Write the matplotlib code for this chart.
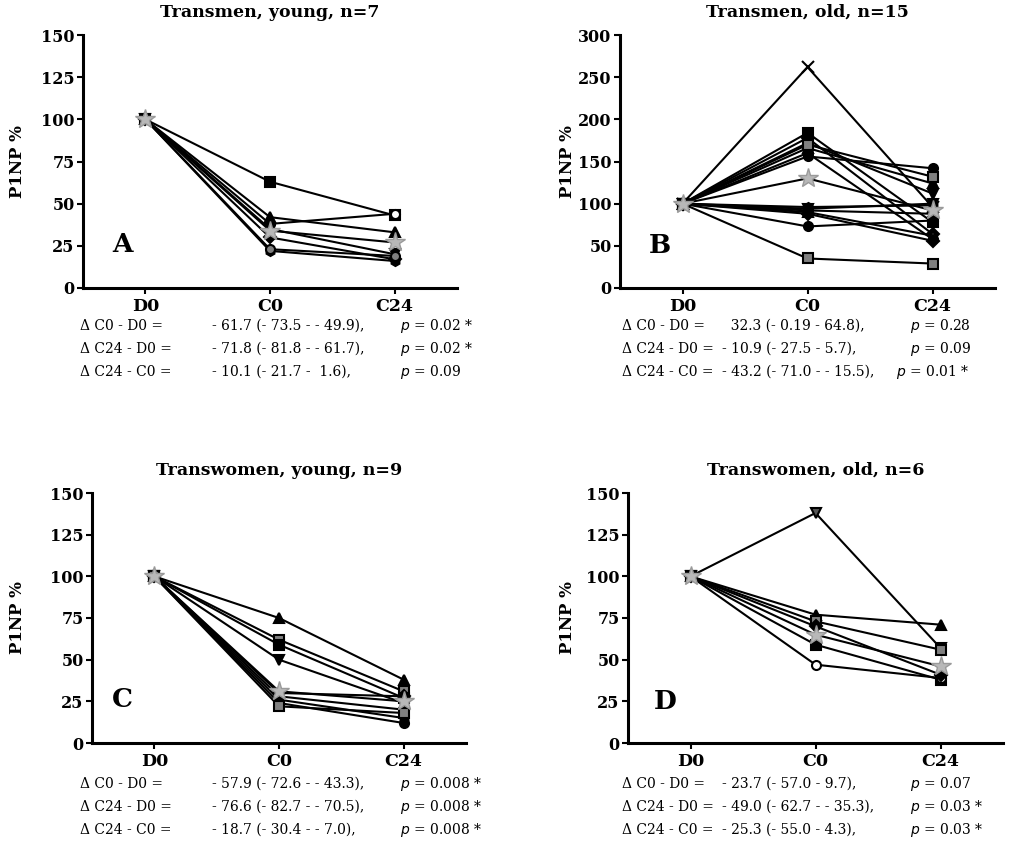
import matplotlib.pyplot as plt

plt.rcParams['font.family'] = 'DejaVu Serif'

times = ['D0', 'C0', 'C24']

# Transmen, young
tm_young = [
    [100, 63, 43],
    [100, 38, 44],
    [100, 42, 33],
    [100, 35, 20],
    [100, 30, 17],
    [100, 22, 16],
    [100, 23, 19],
]
tm_young_median = [100, 34, 27]

# Transmen, old
tm_old = [
    [100, 262, 96],
    [100, 184, 78],
    [100, 178, 64],
    [100, 172, 112],
    [100, 166, 124],
    [100, 160, 58],
    [100, 156, 142],
    [100, 170, 132],
    [100, 96, 98],
    [100, 92, 88],
    [100, 90, 62],
    [100, 88, 56],
    [100, 73, 80],
    [100, 35, 29],
    [100, 94, 100],
]
tm_old_median = [100, 130, 92]

# Transwomen, young
tw_young = [
    [100, 75, 38],
    [100, 62, 31],
    [100, 59, 27],
    [100, 50, 24],
    [100, 30, 28],
    [100, 28, 20],
    [100, 26, 15],
    [100, 24, 12],
    [100, 22, 18],
]
tw_young_median = [100, 31, 25]

# Transwomen, old
tw_old = [
    [100, 138, 57],
    [100, 77, 71],
    [100, 73, 56],
    [100, 59, 38],
    [100, 47, 39],
    [100, 70, 41],
]
tw_old_median = [100, 65, 46]

titles = ['Transmen, young, n=7', 'Transmen, old, n=15',
          'Transwomen, young, n=9', 'Transwomen, old, n=6']
letters = ['A', 'B', 'C', 'D']

stats_a = [('- 61.7 (- 73.5 - - 49.9),', '0.02 *'),
           ('- 71.8 (- 81.8 - - 61.7),', '0.02 *'),
           ('- 10.1 (- 21.7 -  1.6),', '0.09')]
stats_b = [('  32.3 (- 0.19 - 64.8),', '0.28'),
           ('- 10.9 (- 27.5 - 5.7),', '0.09'),
           ('- 43.2 (- 71.0 - - 15.5),', '0.01 *')]
stats_c = [('- 57.9 (- 72.6 - - 43.3),', '0.008 *'),
           ('- 76.6 (- 82.7 - - 70.5),', '0.008 *'),
           ('- 18.7 (- 30.4 - - 7.0),', '0.008 *')]
stats_d = [('- 23.7 (- 57.0 - 9.7),', '0.07'),
           ('- 49.0 (- 62.7 - - 35.3),', '0.03 *'),
           ('- 25.3 (- 55.0 - 4.3),', '0.03 *')]
row_names = ['\u0394 C0 - D0 =', '\u0394 C24 - D0 =', '\u0394 C24 - C0 =']

# marker styles per panel
mk = [
    (['s', 'o', '^', 'v', 'D', 'h', 'o'],
     ['black', 'white', 'black', 'black', 'black', 'black', 'gray']),
    (['x', 's', 'D', 'v', '^', 'o', 'o', 's', 'h', 'o', '^', 'D', 'o', 's', 'v'],
     ['black', 'black', 'black', 'black', 'black', 'black', 'black', 'gray',
      'black', 'black', 'white', 'black', 'black', 'gray', 'black']),
    (['^', 's', 's', 'v', 'D', 'o', 'h', 'o', 's'],
     ['black', 'gray', 'black', 'black', 'black', 'black', 'black', 'black', 'gray']),
    (['v', '^', 's', 's', 'o', 'D'],
     ['#555555', 'black', 'gray', 'black', 'white', 'black']),
]

W, H = 1025, 856
fig = plt.figure(figsize=(W / 100, H / 100), dpi=100)

panels = [
    (tm_young, tm_young_median, 150, [83, 35, 457, 288], stats_a, 326),
    (tm_old, tm_old_median, 300, [620, 35, 995, 288], stats_b, 326),
    (tw_young, tw_young_median, 150, [92, 493, 466, 743], stats_c, 784),
    (tw_old, tw_old_median, 150, [628, 493, 1003, 743], stats_d, 784),
]
letter_pos = [(-0.18, 26), (-0.18, 50), (-0.26, 26), (-0.2, 25)]

for k, (data, median, ymax, box, stats, row_y) in enumerate(panels):
    x0, y0, x1, y1 = box
    ax = fig.add_axes([x0 / W, 1 - y1 / H, (x1 - x0) / W, (y1 - y0) / H])
    markers, fills = mk[k]
    for i, series in enumerate(data):
        ax.plot(times, series, color='black', lw=1.5,
                marker=markers[i], ms=6.5 if markers[i] != 'x' else 8,
                mfc=fills[i], mec='black', mew=1.5)
    ax.plot(times, median, color='black', lw=1.5, marker='*', ms=15,
            mfc='#b8b8b8', mec='#9a9a9a', zorder=5)
    ax.set_xlim(-0.5, 2.5)
    ax.set_ylim(0, ymax)
    step = 25 if ymax == 150 else 50
    ax.set_yticks(range(0, ymax + 1, step))
    for s in ['top', 'right']:
        ax.spines[s].set_visible(False)
    for s in ['left', 'bottom']:
        ax.spines[s].set_linewidth(2.2)
    ax.tick_params(axis='y', length=4, width=1.5, labelsize=11.5, pad=2)
    ax.tick_params(axis='x', length=4, width=1.5, labelsize=12.5, pad=3)
    for lab in ax.get_xticklabels() + ax.get_yticklabels():
        lab.set_fontweight('bold')
    ax.set_title(titles[k], fontsize=12.5, fontweight='bold', pad=13)
    lx, ly = letter_pos[k]
    ax.text(lx, ly, letters[k], fontsize=19, fontweight='bold',
            ha='center', va='center')
    ax.patch.set_alpha(0)

    # y label in figure pixels
    yl = 18 if k in (0, 2) else 568
    fig.text(yl / W, 1 - (y0 + y1) / 2 / H, 'P1NP %', rotation=90, fontsize=12,
             fontweight='bold', ha='center', va='center')

    left = k in (0, 2)
    tx = 80 if left else 622
    vx = 212 if left else 722
    for j, (val, p) in enumerate(stats):
        px = 400 if left else 910
        if k == 1 and j == 2:
            px = 896  # this p follows the long interval text
        yy = 1 - (row_y + 23 * j) / H
        fig.text(tx / W, yy, row_names[j], fontsize=10, va='center')
        fig.text(vx / W, yy, val, fontsize=10, va='center')
        fig.text(px / W, yy, '$\\it{p}$ = ' + p, fontsize=10, va='center')

fig.savefig('out.png', dpi=100, facecolor='white')
